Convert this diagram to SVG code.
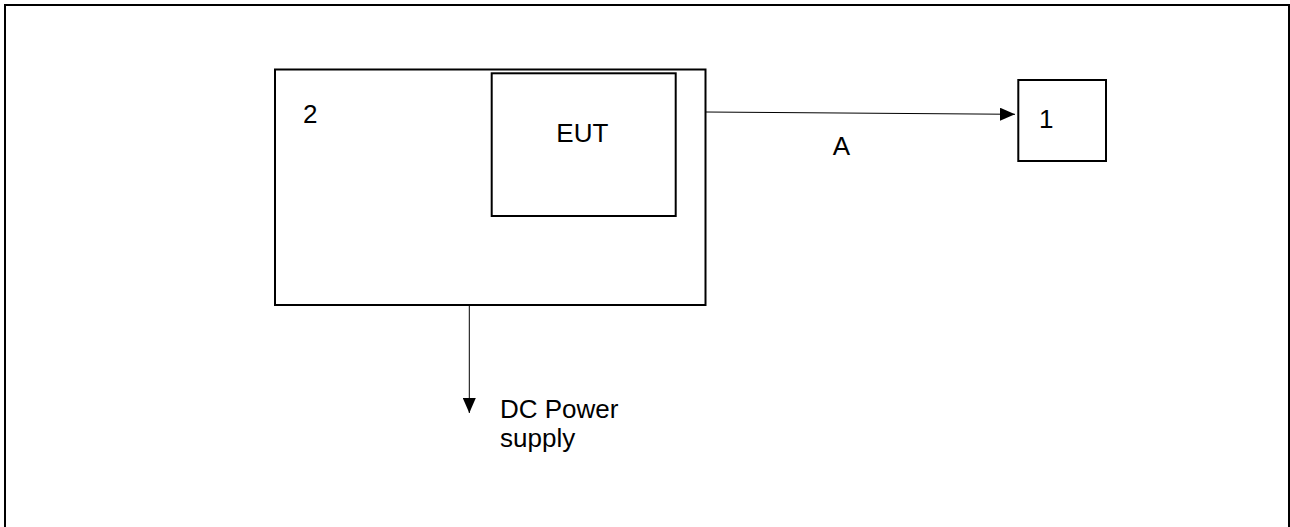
<svg xmlns="http://www.w3.org/2000/svg" width="1290" height="527" viewBox="0 0 1290 527">
<style>
.box{fill:none;stroke:#000;stroke-width:2}
.wire{fill:none;stroke:#000;stroke-width:1}
text{font-family:"Liberation Sans",Arial,sans-serif;font-size:26px;fill:#000}
</style>
<defs>
<marker id="ah" viewBox="0 0 15 13" refX="15" refY="6.5" markerWidth="15" markerHeight="13" markerUnits="userSpaceOnUse" orient="auto">
<path d="M0,0 L15,6.5 L0,13 Z" fill="#000"/>
</marker>
</defs>
<rect x="0" y="0" width="1290" height="527" fill="#fff"/>
<rect id="frame" class="box" x="5" y="5" width="1284" height="530"/>
<g id="node-2">
<rect class="box" x="275" y="69.5" width="430.5" height="235.5"/>
<text x="303" y="123.3">2</text>
</g>
<g id="node-eut">
<rect class="box" x="491.7" y="73.3" width="184" height="142.7"/>
<text x="556.3" y="141.5">EUT</text>
</g>
<g id="node-1">
<rect class="box" x="1018.3" y="80" width="87.7" height="81"/>
<text x="1039" y="128.3">1</text>
</g>
<g id="connectors">
<path class="wire" d="M706,112 L1015,114.3" marker-end="url(#ah)"/>
<path class="wire" d="M469.3,306 L469.3,413" marker-end="url(#ah)"/>
<text x="832.7" y="155">A</text>
<text x="500" y="418.3">DC Power</text>
<text x="500" y="447">supply</text>
</g>
</svg>
